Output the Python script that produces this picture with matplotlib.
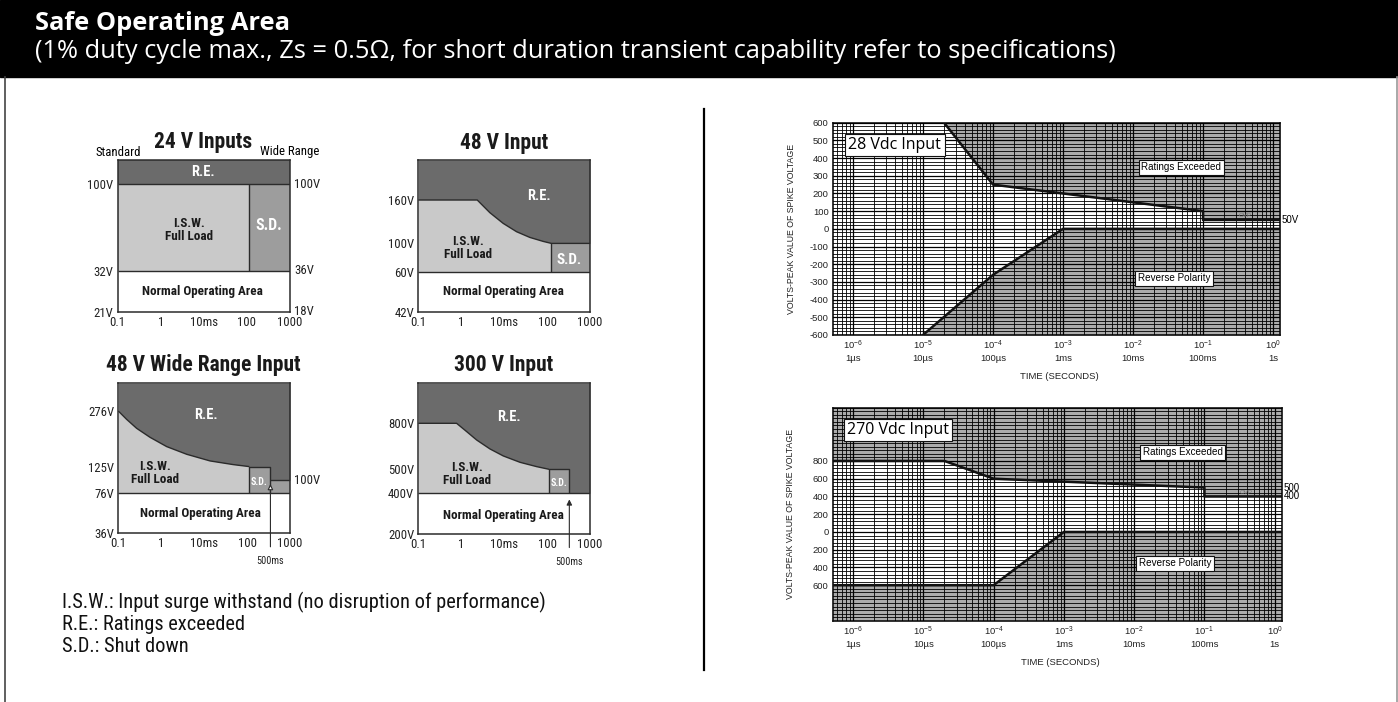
import numpy as np
import matplotlib
matplotlib.use('Agg')
import matplotlib.pyplot as plt
from matplotlib.patches import Rectangle
from matplotlib.ticker import LogLocator, NullFormatter, NullLocator
from matplotlib.font_manager import FontProperties, fontManager

W, H = 1398, 702

plt.rcParams['mathtext.fontset'] = 'custom'
plt.rcParams['mathtext.rm'] = 'Liberation Sans'

RE_C = '#6b6b6b'
ISW_C = '#c9c9c9'
SD_C = '#9d9d9d'
EDGE = '#2b2b2b'
GRID_FILL = '#ababab'

# ---------- small SOA charts: time in ms, voltage in V ----------
t_ticks = [0.1, 1, 10, 100, 1000]
t_tick_labels = ['0.1', '1', '10ms', '100', '1000']

# 24 V Inputs (schematic voltage scale)
v24_scale = [21, 32, 100, 120]
v24_pos = [0, 40.7, 127.7, 151.7]
v24_ticks = [21, 32, 100]
v24_right = ['18V', '36V', '100V']
v24_sd_t = 114

# 48 V Input
v48_scale = [42, 60, 100, 160, 215]
v48_pos = [0, 40, 68.3, 111.7, 151.7]
v48_ticks = [42, 60, 100, 160]
v48_curve_t = [0.1, 2.36, 4.64, 9.48, 19.4, 39.5, 80.7, 126, 1000]
v48_curve_v = [160, 160, 142.5, 127.7, 116.2, 108.3, 102.8, 100, 100]

# 48 V Wide Range Input
v48w_scale = [36, 76, 125, 276, 351]
v48w_pos = [0, 40, 66.7, 122.3, 150]
v48w_ticks = [36, 76, 125, 276]
v48w_curve_t = [0.1, 0.156, 0.267, 0.547, 1.34, 3.91, 13.7, 47.8, 113]
v48w_curve_v = [276, 253.4, 229, 204.6, 179.3, 158.5, 140.4, 130.4, 125]
v48w_sd_end = 350
v48w_hold = 100

# 300 V Input
v300_scale = [200, 400, 500, 800, 1061]
v300_pos = [0, 40.7, 64.7, 110.7, 150.7]
v300_ticks = [200, 400, 500, 800]
v300_curve_t = [0.1, 0.78, 1.34, 2.29, 4.68, 9.56, 23.4, 57.2, 111]
v300_curve_v = [800, 800, 745.7, 691, 632.6, 587, 545.6, 517.4, 500]
v300_sd_end = 330

# ---------- spike charts: time in s, voltage in V ----------
t_major = [1e-6, 1e-5, 1e-4, 1e-3, 1e-2, 1e-1, 1]
t_major_labels = ['$\\mathregular{10^{-6}}$\n1\u00b5s', '$\\mathregular{10^{-5}}$\n10\u00b5s',
                  '$\\mathregular{10^{-4}}$\n100\u00b5s', '$\\mathregular{10^{-3}}$\n1ms',
                  '$\\mathregular{10^{-2}}$\n10ms', '$\\mathregular{10^{-1}}$\n100ms',
                  '$\\mathregular{10^{0}}$\n1s']
t_lo, t_hi = 10 ** -6.29, 10 ** 0.1

up28_t = [2e-5, 1e-4, 0.1, 0.1, t_hi]
up28_v = [600, 250, 100, 50, 50]
low28_t = [1e-5, 1e-4, 1e-3, t_hi]
low28_v = [-600, -260, 0, 0]
y28_ticks = list(range(-600, 601, 100))

up270_t = [t_lo, 2e-5, 1e-4, 0.1, 0.1, t_hi]
up270_v = [800, 800, 600, 500, 400, 400]
low270_t = [t_lo, 1e-4, 1e-3, t_hi]
low270_v = [-600, -600, 0, 0]
y270_ticks = [800, 600, 400, 200, 0, -200, -400, -600]
y270_labels = ['800', '600', '400', '200', '0', '200', '400', '600']


# ---------- fonts: prefer a condensed sans for the small charts ----------
def pick_condensed(bold):
    pref = ['Liberation Sans Narrow', 'Roboto Condensed', 'Roboto', 'Liberation Sans',
            'Noto Sans', 'Lato', 'Inter', 'Open Sans', 'DejaVu Sans']
    found = []
    for f in fontManager.ttflist:
        w = f.weight if isinstance(f.weight, int) else (700 if 'bold' in str(f.weight) else 400)
        if f.style != 'normal':
            continue
        if (w >= 600) != bold or (bold and w > 750) or (not bold and w < 350):
            continue
        if f.stretch == 'condensed' or 'Narrow' in f.name or 'Condensed' in f.name:
            rank = pref.index(f.name) if f.name in pref else len(pref) - 0.5
            found.append((rank, f.fname))
    if found:
        return sorted(found)[0][1]
    return None


cond_reg_file = pick_condensed(False)
cond_bold_file = pick_condensed(True)


def cfont(size, bold=False):
    path = cond_bold_file if bold else cond_reg_file
    if path:
        return FontProperties(fname=path, size=size)
    return FontProperties(family='Liberation Sans', weight='bold' if bold else 'normal', size=size)


def hfont(size, bold=False):
    return FontProperties(family=['Open Sans', 'DejaVu Sans'], weight='bold' if bold else 'normal', size=size)


def box(x0, y0, x1, y1):
    return [x0 / W, 1 - y1 / H, (x1 - x0) / W, (y1 - y0) / H]


fig = plt.figure(figsize=(W / 100, H / 100), dpi=100)
renderer = fig.canvas.get_renderer()

bg = fig.add_axes([0, 0, 1, 1])
bg.set_xlim(0, W)
bg.set_ylim(H, 0)
bg.axis('off')


def width_px(s, fp):
    t = bg.text(0, 0, s, fontproperties=fp)
    w = t.get_window_extent(renderer).width
    t.remove()
    return w


def fit(s, maker, base, target, bold=False):
    return base * target / width_px(s, maker(base, bold))


# sizes calibrated to the widths seen in the chart; a wide substitute font
# gets part of its lost height back
em_w = width_px('Standard', cfont(10)) / (10 * 100 / 72)
bump = max(1.0, (em_w / 3.33) ** 0.5)

title_sz = fit('Safe Operating Area', hfont, 15, 255, True)
sub_txt = '(1% duty cycle max., Zs = 0.5\u03a9, for short duration transient capability refer to specifications)'
sub_sz = fit(sub_txt, hfont, 14, 1085)
legend_lines = ['I.S.W.: Input surge withstand (no disruption of performance)',
                'R.E.: Ratings exceeded', 'S.D.: Shut down']
legend_sz = fit(legend_lines[0], cfont, 12, 483)
lab_sz = fit('Normal Operating Area', cfont, 10, 117, True) * bump
ptitle_sz = fit('48 V Wide Range Input', cfont, 13, 188, True) * bump
tick_sz = fit('Standard', cfont, 9.5, 44) * bump

# page furniture
bg.add_patch(Rectangle((0, 0), W, 77, color='black'))
bg.text(35, 24, 'Safe Operating Area', color='white', fontproperties=hfont(title_sz, True),
        va='center', ha='left')
bg.text(35, 52, sub_txt, color='white', fontproperties=hfont(sub_sz), va='center', ha='left')
bg.plot([4.5, 4.5], [77, 702], color='#444444', lw=1.2)
bg.plot([1396.5, 1396.5], [77, 702], color='#999999', lw=1.2)
bg.plot([703.5, 703.5], [109, 670], color='black', lw=1.6)

for y, s in zip([602, 624, 646], legend_lines):
    bg.text(62, y, s, fontproperties=cfont(legend_sz), va='center', ha='left', color='#111111')

for (x, y), s in zip([(203, 142), (504, 143), (203, 365), (504, 365)],
                     ['24 V Inputs', '48 V Input', '48 V Wide Range Input', '300 V Input']):
    bg.text(x, y, s, fontproperties=cfont(ptitle_sz, True), ha='center', va='center', color='#1a1a1a')
bg.text(118, 152, 'Standard', fontproperties=cfont(tick_sz), ha='center', va='center')
bg.text(290, 152, 'Wide Range', fontproperties=cfont(tick_sz), ha='center', va='center')


def soa_axes(rect, scale_v, scale_p, ticks):
    ax = fig.add_axes(box(*rect))
    ax.set_xscale('log')
    ax.set_yscale('function', functions=(lambda v: np.interp(v, scale_v, scale_p),
                                         lambda p: np.interp(p, scale_p, scale_v)))
    ax.set_xlim(0.1, 1000)
    ax.set_ylim(scale_v[0], scale_v[-1])
    ax.set_xticks(t_ticks, t_tick_labels, fontproperties=cfont(tick_sz))
    ax.xaxis.set_minor_locator(NullLocator())
    ax.set_yticks(ticks, [f'{v}V' for v in ticks], fontproperties=cfont(tick_sz))
    ax.yaxis.set_minor_locator(NullLocator())
    ax.tick_params(length=0, pad=3, colors='#222222')
    for sp in ax.spines.values():
        sp.set_color(EDGE)
        sp.set_linewidth(1.1)
    return ax


def region_labels(ax, isw, re, sd, noa, sd_k=1.1):
    kw = dict(transform=ax.transAxes, ha='center', va='center')
    ax.text(*re, 'R.E.', color='white', fontproperties=cfont(lab_sz * 1.1, True), **kw)
    ax.text(*isw, 'I.S.W.\nFull Load', color='#1a1a1a', fontproperties=cfont(lab_sz, True),
            linespacing=1.0, **kw)
    ax.text(*sd, 'S.D.', color='white', fontproperties=cfont(lab_sz * sd_k, True), **kw)
    ax.text(*noa, 'Normal Operating Area', color='#1a1a1a', fontproperties=cfont(lab_sz, True), **kw)


def edge(ax, x, y):
    ax.plot(x, y, color=EDGE, lw=1.0, solid_capstyle='butt')


def right_label(ax, v, s):
    ax.text(1.025, v, s, transform=ax.get_yaxis_transform(), fontproperties=cfont(tick_sz),
            va='center', ha='left', color='#222222')


def sd_arrow(ax, t, v, face):
    ax.annotate('', xy=(t, v), xytext=(t, -0.09), textcoords=('data', 'axes fraction'),
                annotation_clip=False,
                arrowprops=dict(arrowstyle='-|>', fc=face, ec=EDGE, lw=0.8, mutation_scale=8,
                                shrinkA=0, shrinkB=0))
    ax.text(t, -0.185, '500ms', transform=ax.get_xaxis_transform(), fontproperties=cfont(tick_sz * 0.8),
            ha='center', va='center', color='#222222')


# 24 V Inputs
ax = soa_axes((117.7, 160, 290, 311.7), v24_scale, v24_pos, v24_ticks)
ax.fill_between([0.1, 1000], v24_ticks[2], v24_scale[-1], color=RE_C, lw=0)
ax.fill_between([0.1, v24_sd_t], v24_ticks[1], v24_ticks[2], color=ISW_C, lw=0)
ax.fill_between([v24_sd_t, 1000], v24_ticks[1], v24_ticks[2], color=SD_C, lw=0)
edge(ax, [0.1, 1000], [v24_ticks[2]] * 2)
edge(ax, [0.1, 1000], [v24_ticks[1]] * 2)
edge(ax, [v24_sd_t] * 2, v24_ticks[1:])
for v, lab in zip(v24_ticks, v24_right):
    right_label(ax, v, lab)
region_labels(ax, (0.414, 0.539), (0.495, 0.921), (0.878, 0.571), (0.489, 0.13), sd_k=1.2)

# 48 V Input
ax = soa_axes((418.3, 160, 590, 311.7), v48_scale, v48_pos, v48_ticks)
ax.fill_between(v48_curve_t, v48_curve_v, v48_scale[-1], color=RE_C, lw=0)
ax.fill_between(v48_curve_t[:-1], 60, v48_curve_v[:-1], color=ISW_C, lw=0)
ax.fill_between(v48_curve_t[-2:], 60, v48_curve_v[-2:], color=SD_C, lw=0)
edge(ax, v48_curve_t, v48_curve_v)
edge(ax, [0.1, 1000], [60, 60])
edge(ax, [v48_curve_t[-2]] * 2, [60, 100])
region_labels(ax, (0.29, 0.42), (0.703, 0.763), (0.878, 0.341), (0.493, 0.13), sd_k=1.15)

# 48 V Wide Range Input
ax = soa_axes((118.3, 383.3, 290, 533.3), v48w_scale, v48w_pos, v48w_ticks)
bound_t = v48w_curve_t + [v48w_sd_end, v48w_sd_end, 1000]
bound_v = v48w_curve_v + [125, v48w_hold, v48w_hold]
ax.fill_between(bound_t, bound_v, v48w_scale[-1], color=RE_C, lw=0)
ax.fill_between(v48w_curve_t, 76, v48w_curve_v, color=ISW_C, lw=0)
ax.fill_between(bound_t[-4:], 76, bound_v[-4:], color=SD_C, lw=0)
edge(ax, v48w_curve_t, v48w_curve_v)
edge(ax, [v48w_curve_t[-1], v48w_curve_t[-1], v48w_sd_end, v48w_sd_end], [76, 125, 125, 76])
edge(ax, [v48w_sd_end, 1000], [v48w_hold] * 2)
edge(ax, [0.1, 1000], [76, 76])
right_label(ax, v48w_hold, f'{v48w_hold}V')
sd_arrow(ax, v48w_sd_end, 93, 'white')
region_labels(ax, (0.214, 0.402), (0.509, 0.789), (0.819, 0.342), (0.476, 0.129), sd_k=0.75)

# 300 V Input
ax = soa_axes((418.3, 383.3, 590, 534), v300_scale, v300_pos, v300_ticks)
bound_t = v300_curve_t + [v300_sd_end, v300_sd_end, 1000]
bound_v = v300_curve_v + [500, 400, 400]
ax.fill_between(bound_t, bound_v, v300_scale[-1], color=RE_C, lw=0)
ax.fill_between(v300_curve_t, 400, v300_curve_v, color=ISW_C, lw=0)
ax.fill_between([v300_curve_t[-1], v300_sd_end], 400, 500, color=SD_C, lw=0)
edge(ax, v300_curve_t, v300_curve_v)
edge(ax, [v300_curve_t[-1], v300_curve_t[-1], v300_sd_end, v300_sd_end], [400, 500, 500, 400])
edge(ax, [0.1, 1000], [400, 400])
sd_arrow(ax, v300_sd_end, 370, EDGE)
region_labels(ax, (0.283, 0.398), (0.528, 0.776), (0.819, 0.338), (0.493, 0.126), sd_k=0.75)


# ---------- spike voltage charts ----------
HELV = ['Liberation Sans', 'DejaVu Sans']


def spike_axes(rect, ylim, yticks, ylabels, ystep):
    ax = fig.add_axes(box(*rect))
    ax.set_xscale('log')
    ax.set_xlim(t_lo, t_hi)
    ax.set_ylim(*ylim)
    ax.set_xticks(t_major, t_major_labels, fontsize=6.8, family=HELV)
    ax.xaxis.set_minor_locator(LogLocator(base=10, subs=np.arange(2, 10), numticks=30))
    ax.xaxis.set_minor_formatter(NullFormatter())
    ax.set_yticks(yticks, ylabels, fontsize=6.8, family=HELV)
    ax.set_yticks(np.arange(ylim[0], ylim[1] + 1, ystep), minor=True)
    ax.tick_params(which='both', length=0, colors='#222222', pad=3)
    ax.set_axisbelow(False)
    ax.grid(True, which='major', color='black', lw=0.9)
    ax.grid(True, which='minor', color='black', lw=0.6)
    for sp in ax.spines.values():
        sp.set_color('#111111')
        sp.set_linewidth(1.2)
    ax.set_ylabel('VOLTS-PEAK VALUE OF SPIKE VOLTAGE', fontsize=6.3, family=HELV, color='#222222')
    ax.yaxis.set_label_coords(-0.083, 0.5)
    ax.text(0.507, -0.195, 'TIME (SECONDS)', transform=ax.transAxes, fontsize=6.8, family=HELV,
            ha='center', va='center', color='#222222')
    return ax


def boxed(ax, x, y, s, fp, pad=0.25):
    ax.text(x, y, s, transform=ax.transAxes, fontproperties=fp, ha='center', va='center',
            zorder=6, bbox=dict(boxstyle=f'square,pad={pad}', fc='white', ec='#111111', lw=0.8))


small_fp = FontProperties(family=HELV, size=7.1)

# 28 Vdc
ax = spike_axes((832.7, 122.7, 1280, 335), (-600, 600), y28_ticks, [str(v) for v in y28_ticks], 20)
ax.fill_between(up28_t, up28_v, 600, color=GRID_FILL, lw=0, zorder=1)
ax.fill_between(low28_t, -600, low28_v, color=GRID_FILL, lw=0, zorder=1)
ax.plot(up28_t, up28_v, color='#111111', lw=1.8, zorder=4)
ax.plot(low28_t, low28_v, color='#111111', lw=1.8, zorder=4)
ax.text(1.004, up28_v[-1], f'{up28_v[-1]}V', transform=ax.get_yaxis_transform(), fontsize=7,
        family=HELV, ha='left', va='center')
ax.text(0.922, 0.563, 'OVP', transform=ax.transAxes, fontsize=4.5, family=HELV, color='#777777',
        ha='center', va='center', zorder=5)
boxed(ax, 0.139, 0.895, '28 Vdc Input', hfont(11.5), pad=0.2)
boxed(ax, 0.779, 0.791, 'Ratings Exceeded', small_fp)
boxed(ax, 0.763, 0.268, 'Reverse Polarity', small_fp)

# 270 Vdc
ax = spike_axes((832.7, 407.7, 1281.7, 620.7), (-1000, 1400), y270_ticks, y270_labels, 40)
ax.fill_between(up270_t, up270_v, 1400, color=GRID_FILL, lw=0, zorder=1)
ax.fill_between(low270_t, -1000, low270_v, color=GRID_FILL, lw=0, zorder=1)
ax.plot(up270_t, up270_v, color='#111111', lw=1.8, zorder=4)
ax.plot(low270_t, low270_v, color='#111111', lw=1.8, zorder=4)
for v in up270_v[3:5]:
    ax.text(1.004, v, str(v), transform=ax.get_yaxis_transform(), fontsize=7,
            family=HELV, ha='left', va='center')
ax.text(0.922, 0.603, 'OVP', transform=ax.transAxes, fontsize=4.5, family=HELV, color='#777777',
        ha='center', va='center', zorder=5)
boxed(ax, 0.145, 0.895, '270 Vdc Input', hfont(11.5), pad=0.2)
boxed(ax, 0.780, 0.790, 'Ratings Exceeded', small_fp)
boxed(ax, 0.762, 0.270, 'Reverse Polarity', small_fp)

fig.savefig('out.png', dpi=100)
